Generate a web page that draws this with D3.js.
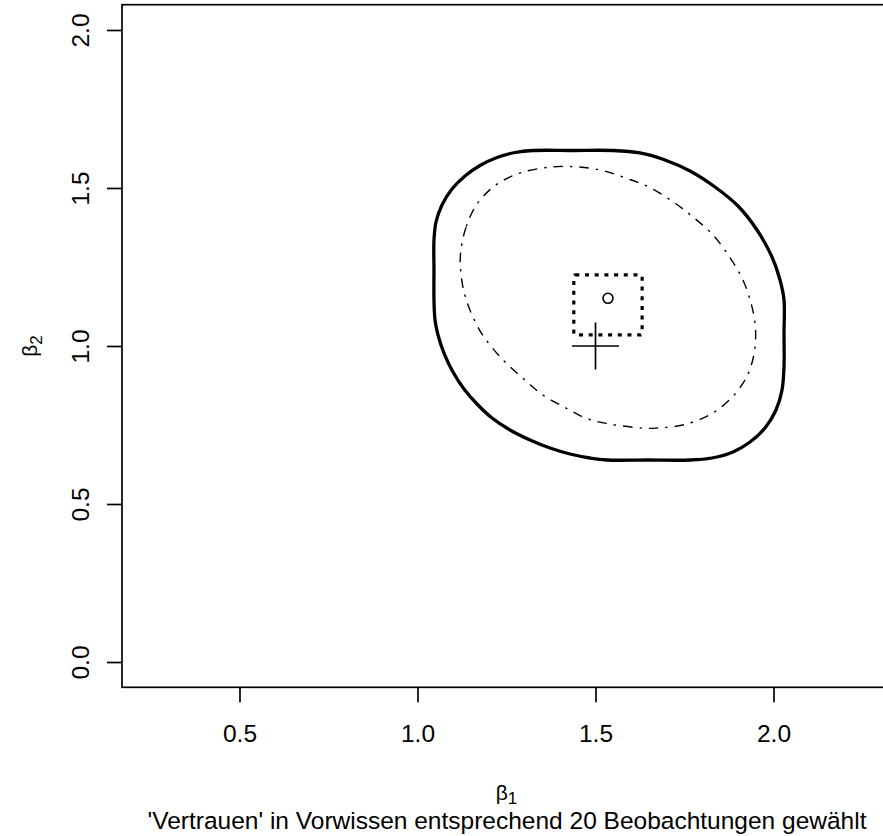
<!DOCTYPE html>
<html>
<head>
<meta charset="utf-8">
<script src="https://cdn.jsdelivr.net/npm/d3@7"></script>
<style>
  html, body { margin: 0; padding: 0; background: #fff; overflow: hidden; }
  text { font-family: "Liberation Sans", Arial, Helvetica, sans-serif; fill: #000; }
</style>
</head>
<body>
<svg id="chart" width="883" height="836"></svg>
<script>
// ---- data ----
const xTicks = [0.5, 1.0, 1.5, 2.0];
const yTicks = [0.0, 0.5, 1.0, 1.5, 2.0];
const xLimits = [0.25, 2.25];
const yLimits = [0.0, 2.0];

// outer (solid, thick) region boundary
const outerX = [1.3244, 1.4368, 1.5492, 1.6250, 1.6952, 1.7654, 1.8357, 1.9003, 1.9537, 1.9958, 2.0183, 2.0295, 2.0295, 2.0295, 2.0239, 2.0070, 1.9761, 1.9340, 1.8862, 1.8272, 1.7654, 1.6475, 1.5323, 1.4846, 1.4284, 1.3722, 1.3160, 1.2598, 1.2093, 1.1671, 1.1306, 1.0997, 1.0744, 1.0576, 1.0492, 1.0463, 1.0463, 1.0463, 1.0520, 1.0688, 1.0969, 1.1334, 1.1756, 1.2233, 1.2739];
const outerY = [1.6187, 1.6187, 1.6187, 1.6108, 1.5886, 1.5538, 1.5032, 1.4430, 1.3671, 1.2816, 1.2089, 1.1456, 1.0411, 0.9367, 0.8608, 0.7975, 0.7405, 0.6962, 0.6646, 0.6456, 0.6392, 0.6392, 0.6392, 0.6456, 0.6582, 0.6772, 0.7025, 0.7342, 0.7722, 0.8165, 0.8639, 0.9177, 0.9778, 1.0348, 1.0823, 1.1456, 1.2405, 1.3354, 1.3924, 1.4462, 1.4968, 1.5380, 1.5712, 1.5965, 1.6123];

// inner (dot-dash) ellipse
const ellX = [1.121, 1.137, 1.169, 1.221, 1.287, 1.371, 1.446, 1.521, 1.586, 1.652, 1.717, 1.773, 1.830, 1.876, 1.914, 1.937, 1.949, 1.947, 1.933, 1.914, 1.876, 1.820, 1.745, 1.671, 1.633, 1.530, 1.474, 1.418, 1.352, 1.296, 1.240, 1.193, 1.169, 1.137, 1.123];
const ellY = [1.293, 1.378, 1.452, 1.510, 1.547, 1.566, 1.567, 1.555, 1.531, 1.502, 1.457, 1.409, 1.351, 1.283, 1.209, 1.135, 1.061, 0.987, 0.924, 0.882, 0.829, 0.782, 0.750, 0.740, 0.740, 0.755, 0.771, 0.803, 0.845, 0.898, 0.956, 1.019, 1.061, 1.146, 1.219];

// dotted rectangle
const rectX = [1.439, 1.631];
const rectY = [1.035, 1.225];

// point estimate (circle) and prior mean (plus)
const circlePt = [1.535, 1.151];
const plusPt = [1.5, 1.0];

const xLabel = "β";
const xLabelSub = "1";
const yLabel = "β";
const yLabelSub = "2";
const subTitle = "'Vertrauen' in Vorwissen entsprechend 20 Beobachtungen gewählt";

// ---- layout ----
const svg = d3.select("#chart");
const plotL = 122, plotR = 891, plotT = 4.7, plotB = 687.3;
const xPad = (xLimits[1] - xLimits[0]) * 0.04;
const yPad = (yLimits[1] - yLimits[0]) * 0.04;
const x = d3.scaleLinear().domain([xLimits[0] - xPad, xLimits[1] + xPad]).range([plotL, plotR]);
const y = d3.scaleLinear().domain([yLimits[0] - yPad, yLimits[1] + yPad]).range([plotB, plotT]);
const FS = 24.5;

// box
svg.append("rect")
  .attr("x", plotL).attr("y", plotT)
  .attr("width", plotR - plotL).attr("height", plotB - plotT)
  .attr("fill", "none").attr("stroke", "#000").attr("stroke-width", 1.7);

// x axis
const xAxis = svg.append("g").attr("transform", `translate(0,${plotB})`)
  .call(d3.axisBottom(x).tickValues(xTicks).tickSize(15).tickFormat(d3.format(".1f")));
xAxis.select(".domain").remove();
xAxis.selectAll(".tick line").attr("stroke", "#000").attr("stroke-width", 1.7);
xAxis.selectAll(".tick text").attr("font-size", FS).attr("dy", null).attr("y", 55)
  .attr("font-family", "Liberation Sans, Arial, sans-serif");

// y axis
const yAxis = svg.append("g").attr("transform", `translate(${plotL},0)`)
  .call(d3.axisLeft(y).tickValues(yTicks).tickSize(15).tickFormat(d3.format(".1f")));
yAxis.select(".domain").remove();
yAxis.selectAll(".tick line").attr("stroke", "#000").attr("stroke-width", 1.7);
yAxis.selectAll(".tick text")
  .attr("font-size", FS).attr("x", null).attr("dy", null)
  .attr("text-anchor", "middle")
  .attr("font-family", "Liberation Sans, Arial, sans-serif")
  .attr("transform", "translate(-33,0) rotate(-90)");

// clip for the plot area
svg.append("clipPath").attr("id", "clip").append("rect")
  .attr("x", plotL).attr("y", plotT).attr("width", plotR - plotL).attr("height", plotB - plotT);
const g = svg.append("g").attr("clip-path", "url(#clip)");

// outer contour
const outerPts = outerX.map((d, i) => [x(d), y(outerY[i])]);
g.append("path")
  .attr("d", d3.line().curve(d3.curveCatmullRomClosed.alpha(0.5))(outerPts))
  .attr("fill", "none").attr("stroke", "#000").attr("stroke-width", 3.3)
  .attr("stroke-linejoin", "round");

// inner dot-dash ellipse
const ellPts = ellX.map((d, i) => [x(d), y(ellY[i])]);
g.append("path")
  .attr("d", d3.line().curve(d3.curveCatmullRomClosed.alpha(0.5))(ellPts))
  .attr("fill", "none").attr("stroke", "#000").attr("stroke-width", 1.4)
  .attr("stroke-dasharray", "2.4,7,9.5,7");

// dotted rectangle
g.append("rect")
  .attr("x", x(rectX[0])).attr("y", y(rectY[1]))
  .attr("width", x(rectX[1]) - x(rectX[0])).attr("height", y(rectY[0]) - y(rectY[1]))
  .attr("fill", "none").attr("stroke", "#000").attr("stroke-width", 3.2)
  .attr("stroke-dasharray", "4,5.7").attr("rx", 1.5);

// circle
g.append("circle")
  .attr("cx", x(circlePt[0])).attr("cy", y(circlePt[1])).attr("r", 5)
  .attr("fill", "none").attr("stroke", "#000").attr("stroke-width", 1.6);

// plus
const arm = 23.5;
const px = x(plusPt[0]), py = y(plusPt[1]);
g.append("path")
  .attr("d", `M${px - arm},${py}H${px + arm}M${px},${py - arm}V${py + arm}`)
  .attr("stroke", "#000").attr("stroke-width", 1.7).attr("fill", "none");

// x label
const xl = svg.append("text").attr("x", (plotL + plotR) / 2).attr("y", 800)
  .attr("text-anchor", "middle").attr("font-size", 21)
  .attr("font-family", "DejaVu Serif, Liberation Serif, serif");
xl.append("tspan").text(xLabel);
xl.append("tspan").attr("font-size", 17).attr("dy", 4)
  .attr("font-family", "Liberation Sans, Arial, sans-serif").text(xLabelSub);

// y label
const yl = svg.append("text")
  .attr("transform", `translate(37,${(plotT + plotB) / 2}) rotate(-90)`)
  .attr("text-anchor", "middle").attr("font-size", 21)
  .attr("font-family", "DejaVu Serif, Liberation Serif, serif");
yl.append("tspan").text(yLabel);
yl.append("tspan").attr("font-size", 17).attr("dy", 5)
  .attr("font-family", "Liberation Sans, Arial, sans-serif").text(yLabelSub);

// subtitle
svg.append("text").attr("x", 507).attr("y", 829)
  .attr("text-anchor", "middle").attr("font-size", FS)
  .text(subTitle);
</script>
</body>
</html>
